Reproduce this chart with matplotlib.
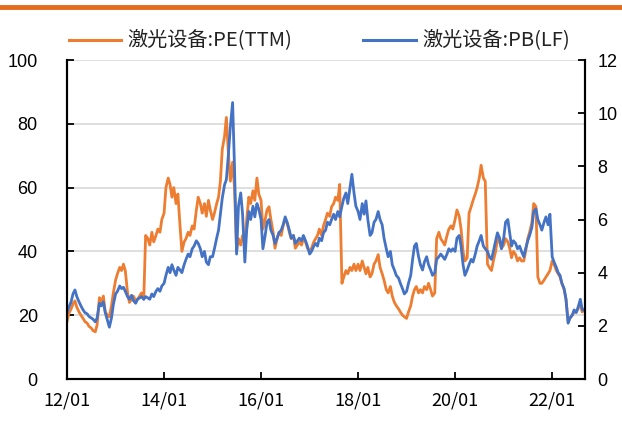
import pandas as pd
import numpy as np
import matplotlib
matplotlib.use("Agg")
import matplotlib.pyplot as plt
import matplotlib.dates as mdates
from matplotlib.lines import Line2D

# semi-monthly points, 2012-01-01 .. 2022-09-01
dates = pd.date_range("2012-01-01", "2022-09-01", freq="SMS")

pe = [
    # 2012
    18.0, 20.5, 22, 23.5, 24.5, 22.5, 21, 20, 19, 18, 17.5, 16.5,
    16, 15.2, 14.8, 17, 25.5, 24, 26, 21, 20, 19.5, 23, 27,
    # 2013
    31, 33, 35, 34, 36, 34, 27, 24, 25, 26, 24.5, 25,
    26, 27, 25, 45, 44, 42, 46, 43, 45, 47, 46, 50,
    # 2014
    52, 60, 63, 61, 57, 60, 55, 58, 48, 40, 43, 44,
    46, 45, 48, 47, 53, 57, 55, 52, 55, 51, 56, 53,
    # 2015
    50, 52, 55, 57, 62, 72, 76, 82, 70, 62, 68, 60,
    40, 44, 42, 45, 43, 50, 57, 55, 59, 56, 63, 58,
    # 2016
    56, 47, 50, 53, 54, 50, 46, 41, 44, 46, 45, 48,
    50, 49, 46, 44, 45, 41, 42, 43, 42, 44, 43, 41,
    # 2017
    40, 41, 43, 44, 45, 47, 45, 48, 50, 52, 51, 54,
    55, 57, 56, 61, 30, 32, 34, 33, 35, 34, 36, 34,
    # 2018
    36, 34, 37, 35, 33, 35, 32, 33, 36, 37, 39, 35,
    33, 31, 28, 27, 29, 26, 24, 23, 22, 21, 20, 19.5,
    # 2019
    19, 21, 23, 26, 28, 29, 27, 28, 27, 29, 28, 30,
    28, 26, 27, 44, 46, 44, 43, 42, 45, 47, 48, 47,
    # 2020
    50, 53, 51, 47, 40, 37, 38, 52, 54, 56, 58, 60,
    63, 67, 63, 62, 36, 35, 34, 37, 40, 44, 43, 41,
    # 2021
    42, 44, 43, 41, 38, 40, 39, 37, 38, 37, 37, 40,
    44, 46, 49, 55, 54, 32, 30, 30, 31, 32, 33, 34,
    # 2022
    37, 36, 34, 33, 32, 30, 28, 25, 18, 19, 20, 21,
    21, 22, 24, 21, 22,
]

pb = [
    # 2012
    2.5, 2.7, 2.9, 3.2, 3.35, 3.1, 2.9, 2.75, 2.6, 2.5, 2.45, 2.35,
    2.3, 2.25, 2.15, 2.3, 2.85, 2.75, 2.9, 2.5, 2.2, 1.95, 2.3, 2.8,
    # 2013
    3.2, 3.3, 3.5, 3.4, 3.45, 3.3, 3.1, 3.0, 3.15, 2.95, 2.85, 3.0,
    3.05, 3.1, 3.0, 3.1, 3.05, 3.0, 3.2, 3.1, 3.3, 3.4, 3.3, 3.5,
    # 2014
    3.6, 3.9, 4.2, 4.0, 4.3, 4.1, 3.9, 4.2, 4.1, 4.0, 4.3, 4.5,
    4.7, 4.6, 4.9, 5.0, 5.2, 5.1, 4.9, 4.6, 4.8, 4.4, 4.3, 4.6,
    # 2015
    4.6, 4.9, 5.3, 5.6, 6.2, 6.8, 7.3, 7.5, 8.5, 9.5, 10.4, 8.0,
    4.7, 6.5, 7.0, 6.2, 4.4, 5.6, 6.3, 6.0, 6.5, 6.1, 6.6, 6.4,
    # 2016
    6.0, 4.9, 5.4, 5.9, 6.0, 5.6, 5.4, 5.1, 5.3, 5.5, 5.6, 5.8,
    6.1, 5.9, 5.6, 5.3, 5.4, 5.1, 5.2, 5.3, 5.2, 5.4, 5.2, 5.0,
    # 2017
    4.7, 4.8, 5.0, 5.1, 5.0, 5.3, 5.2, 5.5, 5.6, 5.9, 5.8, 6.0,
    6.2, 6.0, 6.3, 6.1, 6.5, 6.8, 7.0, 6.6, 7.2, 7.7, 7.0, 6.5,
    # 2018
    6.3, 6.0, 6.6, 6.2, 6.7, 6.0, 5.4, 5.5, 5.9, 6.0, 6.3, 6.0,
    5.8, 5.3, 4.9, 4.6, 4.8, 4.3, 4.1, 3.9, 3.8, 3.6, 3.4, 3.2,
    # 2019
    3.3, 3.6, 3.9, 4.5, 5.0, 5.1, 4.6, 4.3, 4.1, 4.4, 4.6, 4.3,
    4.1, 3.9, 4.0, 4.5, 4.6, 4.7, 4.6, 4.5, 4.7, 4.9, 4.8, 4.9,
    # 2020
    4.8, 5.3, 5.4, 5.0, 4.3, 3.9, 4.1, 4.3, 4.5, 4.4, 4.7, 5.0,
    5.2, 5.4, 5.0, 4.9, 4.8, 4.6, 4.5, 4.8, 5.2, 5.5, 5.3, 4.9,
    # 2021
    5.3, 5.9, 6.0, 5.5, 5.0, 5.2, 5.1, 4.9, 5.0, 4.8, 4.6, 4.9,
    5.2, 5.4, 5.7, 6.3, 6.4, 6.0, 5.8, 5.6, 5.9, 6.1, 5.8, 6.2,
    # 2022
    4.6, 4.4, 4.2, 4.0, 3.9, 3.6, 3.4, 3.0, 2.1, 2.3, 2.4, 2.6,
    2.5, 2.7, 3.0, 2.6, 2.6,
]

pe_label = "激光设备:PE(TTM)"
pb_label = "激光设备:PB(LF)"
pe_color = "#ED7D31"
pb_color = "#4472C4"

cjk = ["Noto Sans CJK SC", "DejaVu Sans"]
num_font = "Liberation Sans"

fig = plt.figure(figsize=(6.22, 4.25), dpi=100)
ax = fig.add_axes([0.1077, 0.1082, 0.8328, 0.7506])
ax2 = ax.twinx()

ax.plot(dates, pe, color=pe_color, lw=2.0)
ax2.plot(dates, pb, color=pb_color, lw=2.0)

ax.set_ylim(0, 100)
ax2.set_ylim(0, 12)
ax.set_yticks(np.arange(0, 101, 20))
ax2.set_yticks(np.arange(0, 13, 2))
ax.set_xlim(pd.Timestamp("2012-01-01"), pd.Timestamp("2022-09-05"))
ax.xaxis.set_major_locator(mdates.YearLocator(2))
ax.xaxis.set_major_formatter(mdates.DateFormatter("%y/%m"))

ax.grid(axis="y", color="#D9D9D9", lw=1.2)
ax.set_axisbelow(True)

for a in (ax, ax2):
    a.spines["top"].set_visible(False)
    for s in ("left", "right", "bottom"):
        a.spines[s].set_color("black")
        a.spines[s].set_linewidth(1.5)

ax.tick_params(axis="y", direction="in", length=5, width=1.3, pad=21)
ax2.tick_params(axis="y", direction="in", length=5, width=1.3, pad=9)
ax.tick_params(axis="x", direction="in", length=5, width=1.3, pad=9)

for lab in ax.get_yticklabels() + ax2.get_yticklabels():
    lab.set_fontfamily(num_font)
    lab.set_fontsize(13)
for lab in ax.get_xticklabels():
    lab.set_fontfamily(cjk)
    lab.set_fontsize(13)

# top rule
fig.add_artist(Line2D([0, 1], [0.984, 0.984], transform=fig.transFigure,
                      color="#E46C1F", lw=3.5))

# legend
ly = 0.906
fig.add_artist(Line2D([69 / 622, 121 / 622], [ly, ly], transform=fig.transFigure,
                      color=pe_color, lw=2.2))
fig.text(127 / 622, ly, pe_label, fontsize=14.5, family=cjk, va="center", color="#222222")
fig.add_artist(Line2D([363 / 622, 416 / 622], [ly, ly], transform=fig.transFigure,
                      color=pb_color, lw=2.2))
fig.text(422 / 622, ly, pb_label, fontsize=14.5, family=cjk, va="center", color="#222222")

fig.savefig("out.png", dpi=100)
